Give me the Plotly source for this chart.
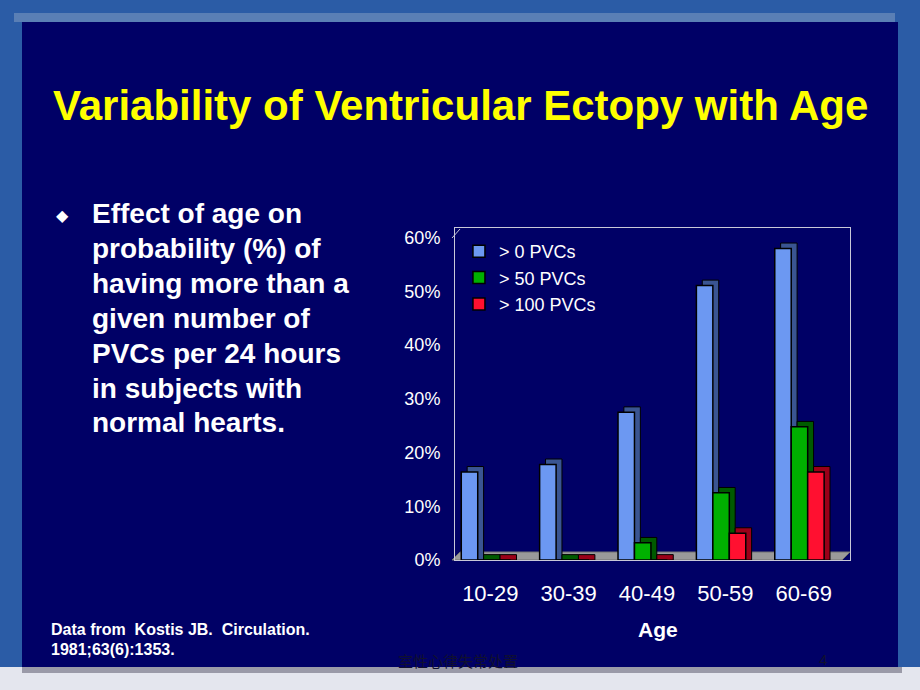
import plotly.graph_objects as go

# data
age_groups = ['10-29', '30-39', '40-49', '50-59', '60-69']
series_names = ['> 0 PVCs', '> 50 PVCs', '> 100 PVCs']
pvc_gt_0 = [16.4, 17.8, 27.5, 51.1, 58.0]
pvc_gt_50 = [0, 0, 3.2, 12.5, 24.8]
pvc_gt_100 = [0, 0, 0, 5.0, 16.4]
y_ticks = [0, 10, 20, 30, 40, 50, 60]
y_tick_labels = ['0%', '10%', '20%', '30%', '40%', '50%', '60%']

bullet_lines = ['Effect of age on', 'probability (%) of', 'having more than a',
                'given number of', 'PVCs per 24 hours', 'in subjects with',
                'normal hearts.']
source_lines = ['Data from  Kostis JB.  Circulation.', '1981;63(6):1353.']

W, H = 920, 690
# plot area in pixels
PL, PR, PT, PB = 455, 850, 228, 560


def px(x):
    return (x - PL) / (PR - PL)


def py(y):
    return (PB - y) / (PB - PT)


FONT = 'Arial, Liberation Sans, sans-serif'
front_colors = ['#6c98f2', '#00b000', '#ff1030']
side_colors = ['#3a5592', '#005a00', '#9a0018']
offsets = [-0.37, -0.16, 0.05]
bar_w = 0.21
dx, dy = 0.075, 1.0

fig = go.Figure()
all_series = [pvc_gt_0, pvc_gt_50, pvc_gt_100]

# dark "depth" faces behind each bar
for vals, name, col, off in zip(all_series, series_names, side_colors, offsets):
    fig.add_trace(go.Bar(
        x=list(range(len(age_groups))),
        y=[v + dy for v in vals],
        base=0,
        offset=off + dx,
        width=bar_w,
        marker=dict(color=col, line=dict(color='black', width=1)),
        showlegend=False,
        hoverinfo='skip'
    ))

for vals, name, col, off in zip(all_series, series_names, front_colors, offsets):
    fig.add_trace(go.Bar(
        x=list(range(len(age_groups))),
        y=vals,
        name=name,
        offset=off,
        width=bar_w,
        marker=dict(color=col, line=dict(color='black', width=1.5))
    ))

shapes = [
    # navy slide panel
    dict(type='rect', xref='paper', yref='paper', layer='below',
         x0=px(22), x1=px(898), y0=py(667), y1=py(22),
         fillcolor='#000066', line=dict(width=0)),
    # top bevel
    dict(type='rect', xref='paper', yref='paper', layer='below',
         x0=px(14), x1=px(895), y0=py(22), y1=py(13),
         fillcolor='#5a7fb5', line=dict(width=0)),
    # light area below the panel
    dict(type='rect', xref='paper', yref='paper', layer='below',
         x0=px(0), x1=px(920), y0=py(690), y1=py(667),
         fillcolor='#e4e6ee', line=dict(width=0)),
    dict(type='rect', xref='paper', yref='paper', layer='below',
         x0=px(22), x1=px(902), y0=py(673), y1=py(667),
         fillcolor='#9a9aa8', line=dict(width=0)),
    # grey floor of the 3D chart
    dict(type='path', xref='paper', yref='paper', layer='below',
         path=f'M {px(452)} {py(560)} L {px(842)} {py(560)} L {px(850)} {py(552)} '
              f'L {px(460)} {py(552)} Z',
         fillcolor='#9a9a9a', line=dict(color='#707070', width=1)),
    # slanted left edge of back wall
    dict(type='line', xref='paper', yref='paper',
         x0=px(452), x1=px(460), y0=py(238), y1=py(229),
         line=dict(color='#c8c8d8', width=1)),
]

annotations = [
    dict(text='<b>Variability of Ventricular Ectopy with Age</b>',
         x=px(460), y=py(105), xref='paper', yref='paper', showarrow=False,
         xanchor='center', yanchor='middle',
         font=dict(family=FONT, size=42, color='#ffff00')),
    dict(text='◆', x=px(62), y=py(215), xref='paper', yref='paper',
         showarrow=False, xanchor='center', yanchor='middle',
         font=dict(family='DejaVu Sans', size=16, color='white')),
    dict(text='<b>Age</b>', x=px(658), y=py(629), xref='paper', yref='paper',
         showarrow=False, xanchor='center', yanchor='middle',
         font=dict(family=FONT, size=21, color='white')),
    dict(text='室性心律失常处置', x=px(458), y=py(660), xref='paper',
         yref='paper', showarrow=False, xanchor='center', yanchor='middle',
         font=dict(family='Noto Sans CJK SC', size=15, color='#101030')),
    dict(text='4', x=px(823), y=py(659), xref='paper', yref='paper',
         showarrow=False, xanchor='center', yanchor='middle',
         font=dict(family=FONT, size=15, color='#101030')),
]
for i, line in enumerate(bullet_lines):
    annotations.append(dict(
        text=f'<b>{line}</b>', x=px(90), y=py(214 + i * 34.8),
        xref='paper', yref='paper', showarrow=False,
        xanchor='left', yanchor='middle',
        font=dict(family=FONT, size=28, color='white')))
for i, line in enumerate(source_lines):
    annotations.append(dict(
        text=f'<b>{line}</b>', x=px(49), y=py(629 + i * 20),
        xref='paper', yref='paper', showarrow=False,
        xanchor='left', yanchor='middle',
        font=dict(family=FONT, size=16, color='white')))

fig.update_layout(
    width=W, height=H,
    margin=dict(l=PL, r=W - PR, t=PT, b=H - PB),
    paper_bgcolor='#2b5ca6',
    plot_bgcolor='#000066',
    barmode='overlay',
    font=dict(family=FONT, color='white'),
    shapes=shapes,
    annotations=annotations,
    legend=dict(x=0.01, y=0.985, xanchor='left', yanchor='top',
                bgcolor='rgba(0,0,0,0)', font=dict(size=18, color='white'),
                itemwidth=30),
    xaxis=dict(range=[-0.45, 4.59], tickmode='array',
               tickvals=list(range(len(age_groups))), ticktext=age_groups,
               showgrid=False, zeroline=False, showline=True,
               linecolor='#c8c8d8', mirror=True, ticks='',
               ticklabelstandoff=14, tickfont=dict(size=22, color='white')),
    yaxis=dict(range=[0, 61.8], tickmode='array', tickvals=y_ticks,
               ticktext=y_tick_labels, showgrid=False, zeroline=False,
               showline=True, linecolor='#c8c8d8', mirror=True, ticks='',
               ticklabelstandoff=10, tickfont=dict(size=18, color='white')),
)

fig.write_html(
    'out.html',
    config={'displayModeBar': False},
    post_script="document.body.style.margin='0';document.body.style.overflow='hidden';"
)
